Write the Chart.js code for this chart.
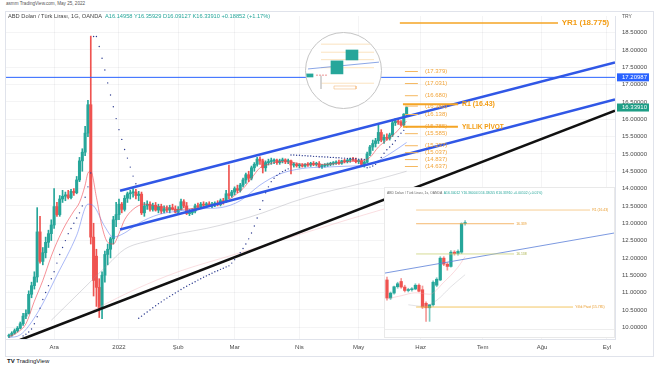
<!DOCTYPE html>
<html>
<head>
<meta charset="utf-8">
<title>USD/TRY</title>
<script src="https://cdn.jsdelivr.net/npm/chart.js@4.4.1/dist/chart.umd.min.js"></script>
<style>
  body { margin: 0; width: 654px; height: 366px; overflow: hidden; background: #fff; position: relative;
         font-family: "Liberation Sans", Arial, sans-serif; }
  .abs { position: absolute; white-space: nowrap; }
  #frame { position: absolute; left: 5px; top: 11px; width: 649px; height: 346px; border: 1px solid #e0e3eb; box-sizing: border-box; }
  #main { position: absolute; left: 0; top: 12px; width: 654px; height: 345px; }
  #inset { position: absolute; left: 384px; top: 187px; width: 231px; height: 151px; background: #fff;
           border: 1px solid #e9e9e9; box-sizing: border-box; }
  #loupe { position: absolute; left: 305px; top: 32px; width: 77px; height: 77px; border-radius: 50%;
           border: 1px solid #c4c4c4; background: #fff; overflow: hidden; box-sizing: border-box; }
</style>
</head>
<body>
<div class="abs" style="left:6px;top:1px;font-size:4.6px;color:#555">asmm TradingView.com, May 25, 2022</div>
<div id="frame"></div>
<div id="main"><canvas id="c"></canvas></div>
<div class="abs" style="left:8px;top:13.3px;font-size:5.7px;color:#444">ABD Doları / Türk Lirası, 1G, OANDA&nbsp; <span style="color:#26a69a">A16.14958 Y16.35929 D16.09127 K16.33910 +0.18852 (+1.17%)</span></div>
<div class="abs" style="left:622px;top:13px;font-size:5px;color:#555">TRY</div>
<div id="loupe"><canvas id="lp"></canvas></div>
<div id="inset">
  <div class="abs" style="left:2px;top:3px;font-size:3.4px;color:#666">ABD Doları / Türk Lirası, 1s, OANDA&nbsp; <span style="color:#26a69a">A16.34012 Y16.36004 D16.33055 K16.33910 +0.00102 (+0.01%)</span></div>
  <canvas id="ins"></canvas>
</div>
<div class="abs" style="left:7px;top:357.5px;font-size:6px;color:#131722"><b>TV</b> TradingView</div>

<script>
// daily bars, 9 Nov 2021 .. 25 May 2022 (index 0 = 9 Nov)
const opens = [
  9.74, 9.77, 9.83, 9.90, 9.97, 10.10, 10.32, 10.40, 10.95, 11.20,
  11.45, 12.75, 11.90, 12.15, 12.45, 12.70, 12.95, 13.48, 13.25, 13.70,
  13.78, 13.82, 13.74, 13.92, 13.88, 14.25, 14.80, 15.05, 15.60, 16.42,
  12.60, 12.05, 11.15, 10.55, 11.50, 12.10, 12.25, 12.55, 13.10, 13.25,
  13.55, 13.40, 13.72, 13.85, 13.88, 13.90, 13.80, 13.84, 13.30, 13.50,
  13.55, 13.40, 13.52, 13.38, 13.48, 13.35, 13.42, 13.38, 13.45, 13.40,
  13.32, 13.40, 13.62, 13.50, 13.28, 13.30, 13.35, 13.50, 13.48, 13.55,
  13.52, 13.56, 13.50, 13.55, 13.58, 13.54, 13.65, 13.62, 13.85, 13.80,
  13.90, 14.00, 13.95, 14.10, 14.25, 14.40, 14.30, 14.60, 14.70, 14.85,
  14.80, 14.60, 14.75, 14.78, 14.80, 14.82, 14.75, 14.80, 14.83, 14.78,
  14.80, 14.68, 14.70, 14.66, 14.68, 14.65, 14.70, 14.68, 14.73, 14.70,
  14.72, 14.63, 14.66, 14.68, 14.70, 14.72, 14.74, 14.76, 14.73, 14.80,
  14.78, 14.82, 14.85, 14.82, 14.78, 14.80, 14.70, 14.76, 15.00, 15.20,
  15.30, 15.38, 15.62, 15.40, 15.48, 15.45, 15.55, 15.90, 15.95, 15.92,
  15.84, 16.14958
];
const highs = [
  9.80, 9.87, 9.95, 10.02, 10.15, 10.40, 10.50, 11.05, 11.30, 11.60,
  13.45, 13.20, 12.30, 12.60, 12.80, 13.10, 14.00, 13.60, 13.80, 13.95,
  13.90, 13.95, 13.98, 14.00, 14.35, 14.90, 15.15, 15.80, 16.55, 18.40,
  13.00, 12.25, 11.40, 11.60, 12.20, 12.40, 12.60, 13.20, 13.60, 13.70,
  13.60, 13.80, 13.90, 13.95, 14.00, 13.98, 13.92, 13.90, 13.60, 13.65,
  13.62, 13.58, 13.60, 13.55, 13.55, 13.50, 13.50, 13.52, 13.55, 13.50,
  13.48, 13.70, 13.68, 13.60, 13.40, 13.42, 13.55, 13.58, 13.60, 13.62,
  13.60, 13.62, 13.60, 13.62, 13.65, 13.70, 13.72, 13.95, 14.68, 13.95,
  14.05, 14.10, 14.15, 14.30, 14.45, 14.50, 14.65, 14.75, 14.90, 14.92,
  14.85, 14.80, 14.85, 14.88, 14.86, 14.85, 14.85, 14.88, 14.86, 14.85,
  14.82, 14.75, 14.74, 14.72, 14.72, 14.72, 14.75, 14.76, 14.78, 14.76,
  14.78, 14.70, 14.72, 14.74, 14.76, 14.78, 14.80, 14.82, 14.82, 14.85,
  14.84, 14.88, 14.90, 14.88, 14.84, 14.86, 14.80, 15.05, 15.25, 15.40,
  15.45, 15.85, 15.70, 15.55, 15.58, 15.60, 15.95, 16.02, 16.00, 15.96,
  16.16, 16.35929
];
const lows = [
  9.70, 9.74, 9.80, 9.86, 9.95, 10.05, 10.25, 10.38, 10.85, 11.10,
  11.30, 11.85, 11.80, 12.00, 12.30, 12.50, 12.85, 13.20, 13.20, 13.60,
  13.65, 13.70, 13.70, 13.80, 13.85, 14.20, 14.50, 14.95, 15.50, 12.40,
  10.90, 10.60, 10.28, 10.25, 11.30, 11.80, 12.00, 12.40, 12.90, 13.10,
  13.30, 13.35, 13.60, 13.70, 13.75, 13.70, 13.65, 13.25, 13.20, 13.40,
  13.35, 13.35, 13.35, 13.30, 13.28, 13.30, 13.32, 13.30, 13.38, 13.30,
  13.28, 13.38, 13.45, 13.25, 13.22, 13.25, 13.30, 13.42, 13.44, 13.45,
  13.46, 13.48, 13.45, 13.48, 13.50, 13.50, 13.55, 13.60, 13.70, 13.75,
  13.82, 13.88, 13.90, 14.05, 14.15, 14.20, 14.25, 14.50, 14.65, 14.70,
  14.45, 14.50, 14.68, 14.70, 14.72, 14.70, 14.70, 14.74, 14.72, 14.72,
  14.42, 14.62, 14.62, 14.60, 14.62, 14.62, 14.64, 14.64, 14.66, 14.65,
  14.60, 14.58, 14.62, 14.64, 14.66, 14.68, 14.70, 14.70, 14.70, 14.74,
  14.74, 14.76, 14.80, 14.74, 14.72, 14.66, 14.62, 14.74, 14.95, 15.10,
  15.20, 15.30, 15.35, 15.30, 15.40, 15.40, 15.50, 15.82, 15.85, 15.80,
  15.80, 16.09127
];
const closes = [
  9.77, 9.83, 9.90, 9.97, 10.10, 10.32, 10.40, 10.95, 11.20, 11.45,
  12.75, 11.90, 12.15, 12.45, 12.70, 12.95, 13.48, 13.25, 13.70, 13.78,
  13.82, 13.74, 13.92, 13.88, 14.25, 14.80, 15.05, 15.60, 16.42, 12.60,
  11.35, 11.15, 10.55, 11.50, 12.10, 12.25, 12.55, 13.10, 13.25, 13.55,
  13.40, 13.72, 13.85, 13.88, 13.90, 13.80, 13.84, 13.30, 13.50, 13.55,
  13.40, 13.52, 13.38, 13.48, 13.35, 13.42, 13.38, 13.45, 13.40, 13.32,
  13.40, 13.62, 13.50, 13.28, 13.30, 13.35, 13.50, 13.48, 13.55, 13.52,
  13.56, 13.50, 13.55, 13.58, 13.54, 13.65, 13.62, 13.85, 13.80, 13.90,
  14.00, 13.95, 14.10, 14.25, 14.40, 14.30, 14.60, 14.70, 14.85, 14.80,
  14.60, 14.75, 14.78, 14.80, 14.82, 14.75, 14.80, 14.83, 14.78, 14.80,
  14.68, 14.70, 14.66, 14.68, 14.65, 14.70, 14.68, 14.73, 14.70, 14.72,
  14.63, 14.66, 14.68, 14.70, 14.72, 14.74, 14.76, 14.73, 14.80, 14.78,
  14.82, 14.85, 14.82, 14.78, 14.80, 14.70, 14.76, 15.00, 15.20, 15.30,
  15.38, 15.62, 15.40, 15.48, 15.45, 15.55, 15.90, 15.95, 15.92, 15.84,
  16.15, 16.33910
];
// parabolic SAR dots (null = no dot)
const sar = [
  null, null, null, null, null,
  9.75, 9.80, 9.86, 9.95, 10.10, 10.30, 10.55, 10.80, 11.00, 11.20, 11.40, 11.60, 11.85, 12.10, 12.30,
  12.50, 12.70, 12.85, 13.00, 13.15, 13.30, 13.50, 13.75, 14.05, 14.45,
  18.39, 18.39, 18.10, 17.76, 17.42, 17.05, 16.70, 16.36, 16.02, 15.70, 15.42, 15.13, 14.88, 14.62, 14.36, 14.14,
  10.26, 10.32, 10.38, 10.44, 10.50, 10.56, 10.62, 10.68, 10.73, 10.79, 10.84, 10.89, 10.94, 10.99,
  11.04, 11.09, 11.14, 11.18, 11.23, 11.27, 11.31, 11.36, 11.40, 11.44, 11.48, 11.52, 11.56, 11.60,
  11.63, 11.67, 11.70, 11.74, 11.77, 11.85, 11.95, 12.05, 12.15, 12.27, 12.40, 12.55, 12.72, 12.92,
  13.15, 13.40, 13.65, 13.88, 14.05, 14.20, 14.30, 14.38, 14.44, 14.49, 14.53, 14.57,
  14.97, 14.97, 14.96, 14.96, 14.95, 14.95, 14.94, 14.94, 14.93, 14.93, 14.92, 14.92, 14.91, 14.91,
  14.90, 14.90, 14.89, 14.89, 14.88, 14.88, 14.87, 14.87, 14.86, 14.86, 14.85, 14.85, 14.84,
  14.60, 14.62, 14.65, 14.70, 14.78, 14.90, 15.02, 15.12, 15.20, 15.28, 15.38, 15.50, 15.60, 15.68, 15.78
];
// moving averages
const fastMaIdx = [0, 3, 6, 9, 12, 15, 17, 20, 23, 25, 27, 28, 29, 31, 33, 35, 37, 39, 41, 44, 48, 52, 56, 60,
                   64, 68, 72, 76, 80, 83, 86, 89, 92, 96, 100, 105, 110, 115, 120, 125, 128, 131, 134, 137, 139, 141];
const fastMa = [9.72, 9.85, 10.1, 10.75, 11.35, 12.05, 12.45, 12.95, 13.35, 13.6, 14.1, 14.45, 14.5, 13.75, 12.9, 12.45,
                12.4, 12.7, 13.1, 13.4, 13.55, 13.5, 13.45, 13.4, 13.42, 13.45, 13.52, 13.58, 13.8, 14.0, 14.3, 14.6,
                14.7, 14.78, 14.76, 14.7, 14.7, 14.71, 14.78, 14.8, 14.9, 15.2, 15.4, 15.6, 15.78, 15.95];
const slowMaIdx = [0, 4, 10, 17, 24, 28, 30, 34, 37, 41, 46, 53, 60, 68, 75, 82, 89, 96, 104, 112, 121, 128, 135, 141];
const slowMa = [9.7, 9.78, 10.4, 11.5, 12.65, 13.55, 13.5, 12.9, 12.6, 12.72, 13.0, 13.25, 13.35, 13.42, 13.45,
                13.65, 14.1, 14.42, 14.58, 14.62, 14.65, 14.7, 15.0, 15.33];
const longMaIdx = [15, 25, 35, 41, 50, 60, 70, 80, 90, 100, 110, 120, 130, 141];
const longMa = [10.2, 11.0, 11.8, 12.25, 12.5, 12.7, 12.85, 13.05, 13.3, 13.6, 13.85, 14.05, 14.25, 14.5];
const longestMaIdx = [30, 45, 60, 80, 100, 120, 141];
const longestMa = [10.5, 11.1, 11.6, 12.1, 12.6, 13.1, 13.6];

// drawings
const channelX = [39.4, 214.9];
const upperChannel = [13.94, 17.64];
const lowerChannel = [12.82, 16.57];
const supportX = [3.9, 214.9];
const supportLine = [9.63, 16.25];
const hLevel = 17.20987;
const yr1Level = 18.775;
const r1Level = 16.43;
const pivotLevel = 15.785;
const fibLevels = [17.379, 17.031, 16.680, 16.380, 16.138, 15.785, 15.585, 15.237, 15.037, 14.837, 14.637];
const priceTags = [17.20987, 16.33910];

// axes
const monthTicks = [16, 39, 60, 80, 103, 124, 146, 168, 189, 212];
const monthLabels = ['Ara', '2022', 'Şub', 'Mar', 'Nis', 'May', 'Haz', 'Tem', 'Ağu', 'Eyl'];
const priceTicks = [10, 10.5, 11, 11.5, 12, 12.5, 13, 13.5, 14, 14.5, 15, 15.5, 16, 16.5, 17, 17.5, 18, 18.5];

// hourly inset
const insetOpens = [15.965, 15.845, 15.878, 15.92, 15.955, 15.918, 15.895, 15.90, 15.905, 15.93, 15.90, 15.81,
                    15.78, 15.80, 15.93, 15.965, 16.11, 16.07, 16.055, 16.15, 16.14, 16.15, 16.34];
const insetHighs = [15.985, 15.885, 15.925, 15.95, 15.975, 15.93, 15.91, 15.915, 15.94, 15.94, 15.925, 15.82,
                    15.80, 15.96, 15.98, 16.12, 16.12, 16.08, 16.16, 16.16, 16.165, 16.345, 16.36];
const insetLows = [15.83, 15.835, 15.87, 15.91, 15.91, 15.885, 15.885, 15.89, 15.90, 15.885, 15.775, 15.69,
                   15.69, 15.79, 15.92, 15.96, 16.06, 16.03, 16.05, 16.13, 16.13, 16.14, 16.33];
const insetCloses = [15.845, 15.878, 15.92, 15.94, 15.918, 15.895, 15.90, 15.905, 15.93, 15.89, 15.785, 15.78,
                     15.80, 15.95, 15.97, 16.11, 16.07, 16.055, 16.15, 16.14, 16.155, 16.34, 16.345];
const insetLevels = [16.43, 16.339, 16.138, 15.785];
const insetLevelNames = ['R1 (16.43)', '16.339', '16.138', 'Yıllık Pivot (15.785)'];
const insetFastIdx = [0, 4, 8, 12, 16, 20, 22];
const insetFast = [15.84, 15.86, 15.88, 15.87, 15.95, 16.05, 16.12];
const insetSlowIdx = [6, 10, 14, 18, 22];
const insetSlow = [15.8, 15.79, 15.83, 15.92, 16.0];
const insetTrendX = [-0.56, 63.94];
const insetTrend = [16.011, 16.277];
const insetTicks = [2.8, 7.9, 13.5, 18.6, 24.2, 29.9, 35.5, 40.8, 45.9, 51.5, 56.6];
const insetTickLabels = ['12', '15', '18', '21', '25', '03', '06', '09', '12', '15', '18'];

// magnifier (last two bars, enlarged)
const loupeX = [0.47, 4.13, 6.13];
const loupeOpen = [16.15, 16.20, 16.425];
const loupeClose = [16.20, 16.41, 16.586];
const loupeLevels = [16.68, 16.55, 16.43, 16.30, 16.05];

const UP = '#26a69a', DOWN = '#ef5350';
const FONT = '"Liberation Sans", Arial, sans-serif';
const pts = (xs, ys) => xs.map((x, k) => ({ x: x, y: ys[k] }));
const flat = (x0, x1, v) => [{ x: x0, y: v }, { x: x1, y: v }];
function line(data, color, width, order, extra) {
  return Object.assign({ type: 'line', data: data, borderColor: color, borderWidth: width, pointRadius: 0, order: order }, extra || {});
}

// ---------- main chart ----------
const candleColors = closes.map((c, i) => c >= opens[i] ? UP : DOWN);
const fibData = [];
fibLevels.forEach(v => fibData.push({ x: 140.4, y: v }, { x: 145, y: v }, { x: 145.2, y: null }));

const mainText = {
  id: 'mainText',
  afterDatasetsDraw(chart) {
    const { ctx, scales: { x, y } } = chart;
    ctx.save();
    ctx.textBaseline = 'middle';
    ctx.textAlign = 'left';
    ctx.fillStyle = '#f2a53a';
    ctx.font = '6px ' + FONT;
    fibLevels.forEach(v => ctx.fillText('(' + v.toFixed(3) + ')', x.getPixelForValue(147.5), y.getPixelForValue(v)));
    ctx.fillStyle = '#f39c12';
    ctx.font = 'bold 7px ' + FONT;
    ctx.fillText('R1 (' + r1Level + ')', x.getPixelForValue(160.6), y.getPixelForValue(r1Level));
    ctx.font = 'bold 6.5px ' + FONT;
    ctx.fillText('YILLIK PİVOT', x.getPixelForValue(160.6), y.getPixelForValue(pivotLevel));
    ctx.font = 'bold 8px ' + FONT;
    ctx.fillText('YR1 (' + yr1Level + ')', x.getPixelForValue(196.0), y.getPixelForValue(yr1Level));
    ctx.restore();
  },
  afterDraw(chart) {
    const { ctx, scales: { y }, chartArea } = chart;
    const tagColors = ['#2962ff', '#1e9e86'];
    ctx.save();
    ctx.textBaseline = 'middle';
    ctx.textAlign = 'left';
    ctx.font = '6px ' + FONT;
    priceTags.forEach((v, k) => {
      const py = y.getPixelForValue(v);
      ctx.fillStyle = tagColors[k];
      ctx.fillRect(chartArea.right + 2, py - 4, 32, 8);
      ctx.fillStyle = '#fff';
      ctx.fillText(v.toFixed(5), chartArea.right + 7, py + 0.3);
    });
    ctx.restore();
  }
};

new Chart(document.getElementById('c'), {
  type: 'bar',
  data: {
    datasets: [
      { type: 'bar', data: closes.map((c, i) => ({ x: i, y: [lows[i], highs[i]] })), backgroundColor: candleColors,
        barThickness: 1, grouped: false, order: 20 },
      { type: 'bar', data: closes.map((c, i) => ({ x: i, y: [opens[i], c] })), backgroundColor: candleColors,
        barThickness: 2.4, minBarLength: 1, grouped: false, order: 19 },
      line(pts(longestMaIdx, longestMa), 'rgba(240,160,170,0.35)', 1, 18, { cubicInterpolationMode: 'monotone' }),
      line(pts(longMaIdx, longMa), 'rgba(150,150,160,0.35)', 1, 18, { cubicInterpolationMode: 'monotone' }),
      line(pts(slowMaIdx, slowMa), 'rgba(90,120,240,0.65)', 0.8, 16, { cubicInterpolationMode: 'monotone' }),
      line(pts(fastMaIdx, fastMa), 'rgba(240,70,80,0.75)', 0.8, 15, { cubicInterpolationMode: 'monotone' }),
      line(sar.map((v, i) => ({ x: i, y: v })), '#2b3a8f', 0, 14,
           { showLine: false, pointRadius: 0.7, pointBackgroundColor: '#2b3a8f', pointBorderWidth: 0 }),
      line(flat(-1.06, 214.9, hLevel), '#2962ff', 1, 6),
      line(pts(supportX, supportLine), '#111111', 2.5, 5),
      line(pts(channelX, upperChannel), '#3057e6', 2.5, 5),
      line(pts(channelX, lowerChannel), '#3057e6', 2.5, 5),
      line(flat(138.6, 194.7, yr1Level), '#f5a524', 1.5, 4),
      line(flat(139.7, 159.2, r1Level), '#f5a524', 2, 4),
      line(flat(139.7, 159.2, pivotLevel), '#f5a524', 2, 4),
      line(fibData, '#f5b860', 1, 4)
    ]
  },
  options: {
    responsive: true, maintainAspectRatio: false, animation: false,
    layout: { padding: { left: 6, top: 0, right: 0, bottom: 0 } },
    plugins: { legend: { display: false }, tooltip: { enabled: false } },
    scales: {
      x: {
        type: 'linear', min: -1.06, max: 214.9, offset: false,
        grid: { color: 'rgba(42,46,57,0.05)', drawTicks: false, offset: false },
        border: { color: '#e0e3eb' },
        afterBuildTicks: s => { s.ticks = monthTicks.map(v => ({ value: v })); },
        afterFit: s => { s.height = 18; s.paddingLeft = 0; s.paddingRight = 0; },
        ticks: { autoSkip: false, maxRotation: 0, padding: 5, color: '#4a4a4a', font: { size: 6, family: FONT },
                 callback: (v, k) => monthLabels[k] }
      },
      y: {
        position: 'right', min: 9.66, max: 18.98,
        grid: { color: 'rgba(42,46,57,0.05)', drawTicks: false },
        border: { color: '#e0e3eb' },
        afterBuildTicks: s => { s.ticks = priceTicks.map(v => ({ value: v })); },
        afterFit: s => { s.width = 39; s.paddingTop = 0; s.paddingBottom = 0; },
        ticks: { padding: 7, color: '#4a4a4a', font: { size: 6, family: FONT }, callback: v => v.toFixed(5) }
      }
    }
  },
  plugins: [mainText]
});

// ---------- hourly inset ----------
const insetColors = insetCloses.map((c, i) => c >= insetOpens[i] ? UP : DOWN);
const insetEnds = [57.2, 35.8, 35.8, 52.4];
const insetLineColors = ['#f6c27a', '#f3a64a', '#cbd27a', '#f0b83c'];
const insetText = {
  id: 'insetText',
  afterDatasetsDraw(chart) {
    const { ctx, scales: { x, y } } = chart;
    ctx.save();
    ctx.textBaseline = 'middle';
    ctx.font = '3.4px ' + FONT;
    insetLevels.forEach((v, k) => {
      ctx.fillStyle = k === 2 ? '#a9b24a' : '#e89a2a';
      ctx.fillText(insetLevelNames[k], x.getPixelForValue(insetEnds[k] + 0.6), y.getPixelForValue(v));
    });
    ctx.restore();
  }
};
new Chart(document.getElementById('ins'), {
  type: 'bar',
  data: {
    datasets: [
      { type: 'bar', data: insetCloses.map((c, i) => ({ x: i, y: [insetLows[i], insetHighs[i]] })),
        backgroundColor: insetColors.map(c => c + '99'), barThickness: 1, grouped: false, order: 20 },
      { type: 'bar', data: insetCloses.map((c, i) => ({ x: i, y: [insetOpens[i], c] })),
        backgroundColor: insetColors, barThickness: 2.6, minBarLength: 1, grouped: false, order: 19 },
      line(pts(insetSlowIdx, insetSlow), 'rgba(150,150,160,0.4)', 0.7, 12, { cubicInterpolationMode: 'monotone' }),
      line(pts(insetFastIdx, insetFast), 'rgba(240,150,160,0.5)', 0.7, 12, { cubicInterpolationMode: 'monotone' }),
      line(pts(insetTrendX, insetTrend), '#5b7fd8', 0.8, 6),
      ...insetLevels.map((v, k) => line(flat(8.2, insetEnds[k], v), insetLineColors[k], 0.8, 5))
    ]
  },
  options: {
    responsive: true, maintainAspectRatio: false, animation: false,
    layout: { padding: { top: 7, left: 0, right: 0, bottom: 0 } },
    plugins: { legend: { display: false }, tooltip: { enabled: false } },
    scales: {
      x: {
        type: 'linear', min: -0.56, max: 63.94, offset: false,
        grid: { display: false, offset: false },
        border: { color: '#eeeeee' },
        afterBuildTicks: s => { s.ticks = insetTicks.map(v => ({ value: v })); },
        afterFit: s => { s.height = 8; s.paddingLeft = 0; s.paddingRight = 0; },
        ticks: { autoSkip: false, maxRotation: 0, padding: 1, color: '#9a9a9a', font: { size: 3.4, family: FONT },
                 callback: (v, k) => insetTickLabels[k] }
      },
      y: { display: false, min: 15.639, max: 16.53 }
    }
  },
  plugins: [insetText]
});

// ---------- magnifier ----------
const loupeLines = [];
loupeLevels.forEach(v => loupeLines.push({ x: 2.0, y: v }, { x: 9.07, y: v }, { x: 9.1, y: null }));
new Chart(document.getElementById('lp'), {
  type: 'bar',
  data: {
    datasets: [
      line(loupeLines, 'rgba(245,190,110,0.55)', 0.8, 10),
      line([{ x: 0.27, y: 16.28 }, { x: 9.73, y: 16.39 }], '#6d8fe0', 0.8, 4),
      line(flat(1.33, 2.93, 16.18), '#e57373', 0.8, 4, { borderDash: [2, 1] }),
      line([{ x: 3.73, y: 16.005 }, { x: 6.67, y: 16.005 }, { x: 6.67, y: 15.957 }, { x: 3.73, y: 15.957 }, { x: 3.73, y: 16.005 }],
           'rgba(240,170,100,0.6)', 0.8, 4),
      line([{ x: 2.0, y: 16.17 }, { x: 2.0, y: 15.957 }], '#c9c9c9', 0.8, 4),
      { type: 'bar', data: [{ x: loupeX[0], y: [loupeOpen[0], loupeClose[0]] }], backgroundColor: UP,
        barThickness: 7, grouped: false, order: 2 },
      { type: 'bar', data: loupeX.slice(1).map((x, k) => ({ x: x, y: [loupeOpen[k + 1], loupeClose[k + 1]] })),
        backgroundColor: UP, barThickness: 12, grouped: false, order: 1 }
    ]
  },
  options: {
    responsive: true, maintainAspectRatio: false, animation: false,
    layout: { padding: 0 },
    plugins: { legend: { display: false }, tooltip: { enabled: false } },
    scales: {
      x: { type: 'linear', display: false, min: 0, max: 10, offset: false },
      y: { display: false, min: 15.65, max: 16.86 }
    }
  }
});
</script>
</body>
</html>
